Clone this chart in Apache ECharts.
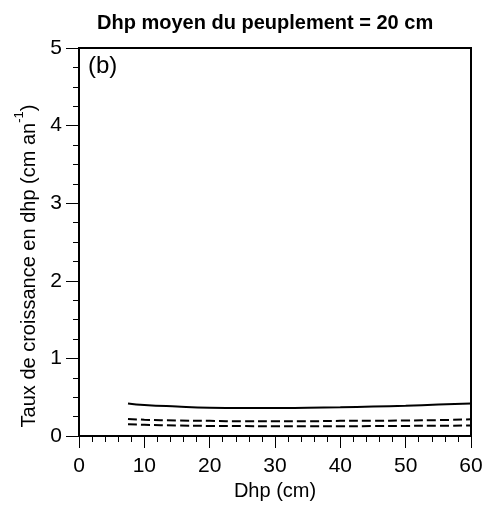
<!DOCTYPE html>
<html>
<head>
<meta charset="utf-8">
<script src="https://cdn.jsdelivr.net/npm/echarts@6/dist/echarts.min.js"></script>
<style>
  html, body { margin: 0; padding: 0; background: #fff; }
  #chart { width: 487px; height: 514px; }
</style>
</head>
<body>
<div id="chart"></div>
<script>
// Tree diameter (cm) at which growth rates are evaluated
var dhp = [7.5, 10, 15, 20, 25, 30, 35, 40, 45, 50, 55, 60];
// Growth rate curves (cm per year)
var tauxPlein = [0.42, 0.40, 0.38, 0.365, 0.36, 0.36, 0.365, 0.37, 0.38, 0.39, 0.405, 0.42];
var tauxTirets1 = [0.22, 0.21, 0.20, 0.195, 0.19, 0.19, 0.19, 0.195, 0.195, 0.20, 0.205, 0.215];
var tauxTirets2 = [0.15, 0.145, 0.135, 0.13, 0.128, 0.125, 0.125, 0.125, 0.128, 0.13, 0.132, 0.135];
var xTicks = [0, 10, 20, 30, 40, 50, 60];
var yTicks = [0, 1, 2, 3, 4, 5];

function pairs(xs, ys) {
  return xs.map(function (x, i) { return [x, ys[i]]; });
}

var FONT = 'Arial, "Liberation Sans", Helvetica, sans-serif';
var chart = echarts.init(document.getElementById('chart'), null, { renderer: 'canvas' });

function lineSeries(name, ys, type) {
  return {
    name: name,
    type: 'line',
    data: pairs(dhp, ys),
    smooth: true,
    showSymbol: false,
    silent: true,
    lineStyle: { color: '#000', width: 2, type: type }
  };
}

chart.setOption({
  animation: false,
  backgroundColor: '#fff',
  title: {
    text: 'Dhp moyen du peuplement = 20 cm',
    left: 92,
    top: 8,
    textStyle: { fontFamily: FONT, fontSize: 20, fontWeight: 'bold', color: '#000' }
  },
  grid: {
    left: 79, right: 16, top: 48, bottom: 78,
    show: true, borderColor: '#000', borderWidth: 2, backgroundColor: 'transparent'
  },
  xAxis: {
    type: 'value',
    min: xTicks[0], max: xTicks[xTicks.length - 1], interval: 10,
    name: 'Dhp (cm)',
    nameLocation: 'middle',
    nameGap: 42,
    nameTextStyle: { fontFamily: FONT, fontSize: 20, color: '#000' },
    axisLine: { show: true, lineStyle: { color: '#000', width: 2 } },
    axisTick: { show: true, inside: false, length: 12, lineStyle: { color: '#000', width: 1 } },
    minorTick: { show: true, splitNumber: 5, length: 6, lineStyle: { color: '#000', width: 1 } },
    axisLabel: { margin: 20, fontFamily: FONT, fontSize: 21, color: '#000' },
    splitLine: { show: false }
  },
  yAxis: {
    type: 'value',
    min: yTicks[0], max: yTicks[yTicks.length - 1], interval: 1,
    name: '{n|Taux de croissance en dhp (cm an}{s|-1}{n|)}',
    nameLocation: 'middle',
    nameGap: 40,
    nameTextStyle: {
      fontFamily: FONT, fontSize: 20, color: '#000',
      padding: [0, 48, 0, 0],
      rich: {
        n: { fontFamily: FONT, fontSize: 20, color: '#000', lineHeight: 26, verticalAlign: 'bottom' },
        s: { fontFamily: FONT, fontSize: 13, color: '#000', lineHeight: 26, verticalAlign: 'top' }
      }
    },
    axisLine: { show: true, lineStyle: { color: '#000', width: 2 } },
    axisTick: { show: true, inside: false, length: 13, lineStyle: { color: '#000', width: 1 } },
    minorTick: { show: true, splitNumber: 4, length: 6, lineStyle: { color: '#000', width: 1 } },
    axisLabel: { margin: 17, fontFamily: FONT, fontSize: 21, color: '#000' },
    splitLine: { show: false }
  },
  graphic: [{
    type: 'text',
    left: 88,
    top: 54,
    style: { text: '(b)', fontFamily: FONT, fontSize: 24, fill: '#000' }
  }],
  series: [
    lineSeries('plein', tauxPlein, 'solid'),
    lineSeries('tirets1', tauxTirets1, [9, 4]),
    lineSeries('tirets2', tauxTirets2, [9, 4])
  ]
});
</script>
</body>
</html>
